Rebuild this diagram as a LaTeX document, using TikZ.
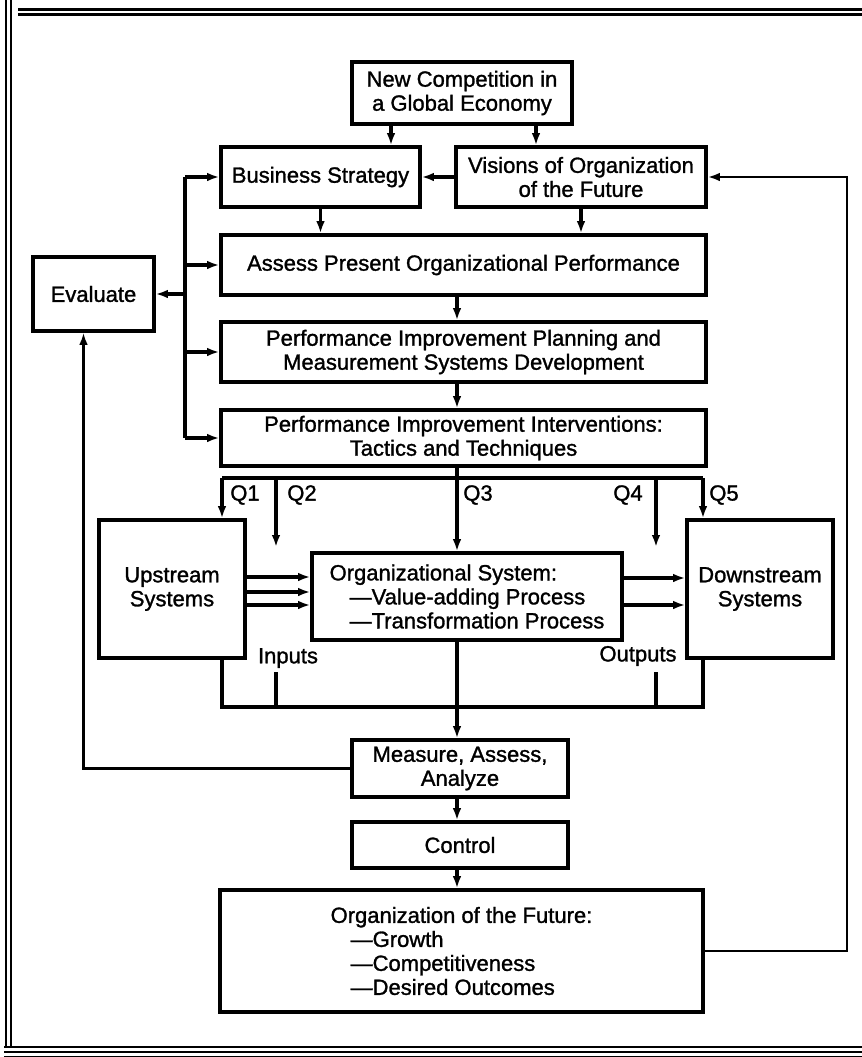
\documentclass[tikz,border=0pt]{standalone}
\usepackage{fontspec}
\setmainfont{Liberation Sans}[BoldFont=Liberation Sans, BoldFeatures={FakeBold=1.3}]
\usetikzlibrary{arrows.meta}
\tikzset{
  stage/.style={draw, line width=2.8pt, inner sep=2pt, align=center},
  link/.style={line width=2.3pt},
  tag/.style={inner sep=1pt}
}
\begin{document}
\begin{tikzpicture}[x=0.75pt, y=-0.75pt, >={Latex[length=9pt,width=6.5pt]},
    every node/.style={font=\fontsize{16.5}{18}\selectfont\bfseries}]
  \useasboundingbox (0,0) rectangle (862,1057);
  % page frame
  \draw[line width=1.8pt] (18,9.5) -- (862,9.5) (18,14.5) -- (862,14.5);
  \draw[line width=1.8pt] (6,0) -- (6,1047) (11,0) -- (11,1047);
  \draw[line width=2.2pt] (4,1047) -- (862,1047);
  \draw[line width=1.4pt] (4,1052) -- (862,1052) (4,1056.5) -- (862,1056.5);
  \draw
    (462,93) node[stage, minimum width=165pt, minimum height=46.5pt] (newcomp)
      {New Competition in\\a Global Economy}
    (320.5,177) node[stage, minimum width=149.25pt, minimum height=45pt] (bizstrat)
      {Business Strategy}
    (581,177) node[stage, minimum width=187.5pt, minimum height=45pt] (visions)
      {Visions of Organization\\of the Future}
    (93.5,294) node[stage, minimum width=90.75pt, minimum height=55.5pt] (evaluate)
      {Evaluate}
    (463.5,265) node[stage, minimum width=363.75pt, minimum height=45pt] (assess)
      {Assess Present Organizational Performance}
    (463.5,352) node[stage, minimum width=363.75pt, minimum height=45pt] (planning)
      {Performance Improvement Planning and\\Measurement Systems Development}
    (463.5,438) node[stage, minimum width=363.75pt, minimum height=42pt] (interv)
      {Performance Improvement Interventions:\\Tactics and Techniques}
    (172,589) node[stage, minimum width=109.5pt, minimum height=103.5pt] (upstream)
      {Upstream\\Systems}
    (467,596.5) node[stage, minimum width=232.5pt, minimum height=65.25pt, align=left] (orgsys)
      {Organizational System:\\\hspace*{15pt}—Value-adding Process\\\hspace*{15pt}—Transformation Process}
    (760,589) node[stage, minimum width=109.5pt, minimum height=103.5pt] (downstream)
      {Downstream\\Systems}
    (460,768.5) node[stage, minimum width=162pt, minimum height=42.75pt] (measure)
      {Measure, Assess,\\Analyze}
    (460,845) node[stage, minimum width=162pt, minimum height=34.5pt] (control)
      {Control}
    (461.5,951) node[stage, minimum width=362.25pt, minimum height=91.5pt, align=left] (orgfuture)
      {Organization of the Future:\\\hspace*{15pt}—Growth\\\hspace*{15pt}—Competitiveness\\\hspace*{15pt}—Desired Outcomes};
  % labels
  \draw
    (245,495) node[tag] (q1l) {Q1}
    (302,495) node[tag] (q2l) {Q2}
    (478,495) node[tag] (q3l) {Q3}
    (628,495) node[tag] (q4l) {Q4}
    (724,495) node[tag] (q5l) {Q5}
    (288,658) node[tag] (inl) {Inputs}
    (638,656) node[tag] (outl) {Outputs};
  % bus points
  \coordinate (mid) at (457,0);
  \coordinate (lb) at (185,0);
  \coordinate (rt) at (847,0);
  \coordinate (q1) at (222,478);
  \coordinate (q2) at (276,478);
  \coordinate (q4) at (656,478);
  \coordinate (q5) at (703,478);
  \coordinate (q2e) at (276,547);
  \coordinate (q4e) at (656,547);
  \coordinate (bus) at (0,707);
  \coordinate (ine) at (276,672);
  \coordinate (oute) at (656,672);
  \begin{scope}[link]
    \draw[->] (newcomp.south -| 391,0) to (bizstrat.north -| 391,0);
    \draw[->] (newcomp.south -| 536,0) to (visions.north -| 536,0);
    \draw[->] (visions.west) to (bizstrat.east);
    \draw[->] (bizstrat.south) to (bizstrat.south |- assess.north);
    \draw[->] (visions.south) to (visions.south |- assess.north);
    \draw[->] (assess.south -| mid) to (planning.north -| mid);
    \draw[->] (planning.south -| mid) to (interv.north -| mid);
    % evaluate loop
    \draw (lb |- bizstrat.west) to (lb |- interv.west);
    \draw[->] (lb |- bizstrat.west) to (bizstrat.west);
    \draw[->] (lb |- assess.west) to (assess.west);
    \draw[->] (lb |- planning.west) to (planning.west);
    \draw[->] (lb |- interv.west) to (interv.west);
    \draw[->] (lb |- evaluate.east) to (evaluate.east);
    % Q lines
    \draw (q1) to (q5);
    \draw[->] (q1) to (q1 |- upstream.north);
    \draw[->] (q2) to (q2e);
    \draw[->] (interv.south -| mid) to (orgsys.north -| mid);
    \draw[->] (q4) to (q4e);
    \draw[->] (q5) to (q5 |- downstream.north);
    % flows
    \draw[->] (upstream.east |- 0,577) to (orgsys.west |- 0,577);
    \draw[->] (upstream.east |- 0,592) to (orgsys.west |- 0,592);
    \draw[->] (upstream.east |- 0,605) to (orgsys.west |- 0,605);
    \draw[->] (orgsys.east |- 0,578) to (downstream.west |- 0,578);
    \draw[->] (orgsys.east |- 0,605) to (downstream.west |- 0,605);
    % outputs bus
    \draw (q1 |- upstream.south) -- (q1 |- bus) -- (q5 |- bus) -- (q5 |- downstream.south);
    \draw (ine) to (ine |- bus);
    \draw (oute) to (oute |- bus);
    \draw[->] (orgsys.south -| mid) to (measure.north -| mid);
    \draw[->] (measure.south -| mid) to (control.north -| mid);
    \draw[->] (control.south -| mid) to (orgfuture.north -| mid);
    \draw[->, line width=1.6pt] (measure.west) -| ([xshift=-7.5pt]evaluate.south);
    \draw[->, line width=1.9pt] (orgfuture.east) -| (rt |- visions.east) -- (visions.east);
  \end{scope}
\end{tikzpicture}
\end{document}
